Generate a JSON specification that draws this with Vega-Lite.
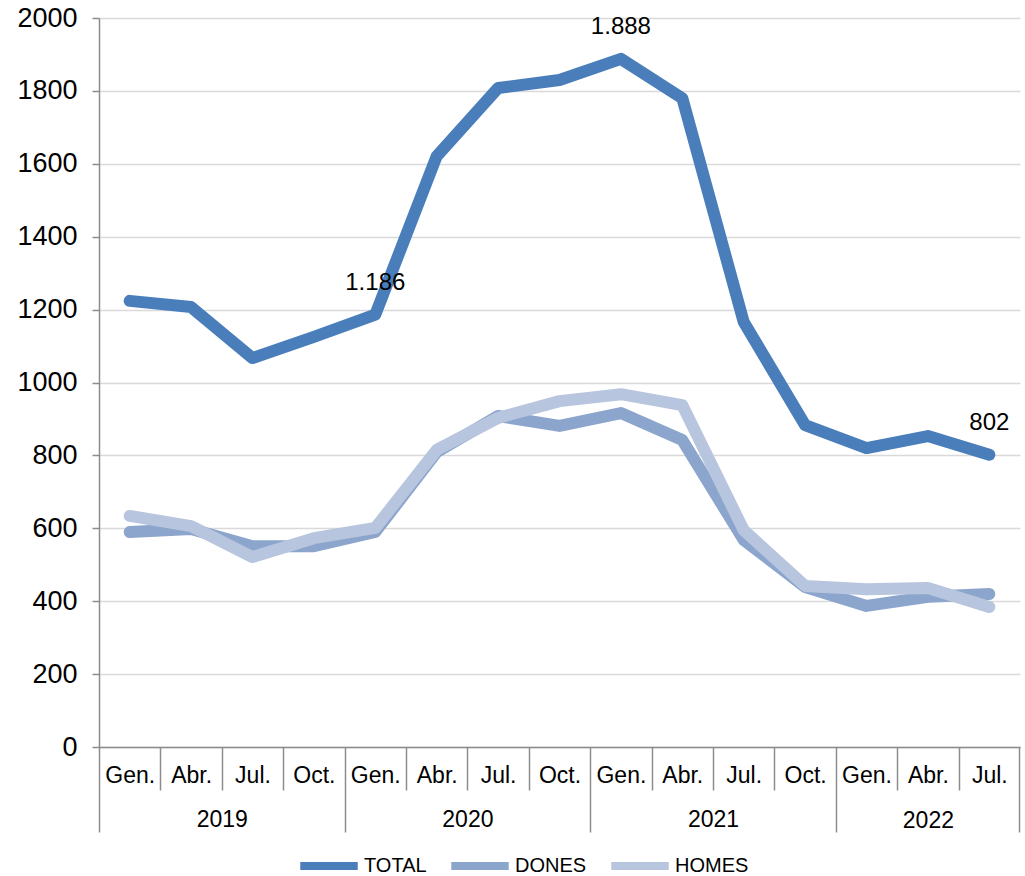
{
  "$schema": "https://vega.github.io/schema/vega-lite/v6.json",
  "autosize": "none",
  "width": 921,
  "height": 729,
  "padding": {"left": 99, "top": 18, "right": 5, "bottom": 129},
  "background": "white",
  "config": {
    "font": "Liberation Sans",
    "view": {"stroke": null},
    "axis": {"labelFont": "Liberation Sans", "labelColor": "#000000"}
  },
  "data": {
    "values": [
      {"i": 0, "serie": "TOTAL", "valor": 1224},
      {"i": 1, "serie": "TOTAL", "valor": 1207},
      {"i": 2, "serie": "TOTAL", "valor": 1067},
      {"i": 3, "serie": "TOTAL", "valor": 1125},
      {"i": 4, "serie": "TOTAL", "valor": 1186, "label": "1.186"},
      {"i": 5, "serie": "TOTAL", "valor": 1621},
      {"i": 6, "serie": "TOTAL", "valor": 1808},
      {"i": 7, "serie": "TOTAL", "valor": 1830},
      {"i": 8, "serie": "TOTAL", "valor": 1888, "label": "1.888"},
      {"i": 9, "serie": "TOTAL", "valor": 1780},
      {"i": 10, "serie": "TOTAL", "valor": 1166},
      {"i": 11, "serie": "TOTAL", "valor": 883},
      {"i": 12, "serie": "TOTAL", "valor": 820},
      {"i": 13, "serie": "TOTAL", "valor": 853},
      {"i": 14, "serie": "TOTAL", "valor": 802, "label": "802"},
      {"i": 0, "serie": "DONES", "valor": 590},
      {"i": 1, "serie": "DONES", "valor": 598},
      {"i": 2, "serie": "DONES", "valor": 551},
      {"i": 3, "serie": "DONES", "valor": 551},
      {"i": 4, "serie": "DONES", "valor": 590},
      {"i": 5, "serie": "DONES", "valor": 809},
      {"i": 6, "serie": "DONES", "valor": 908},
      {"i": 7, "serie": "DONES", "valor": 881},
      {"i": 8, "serie": "DONES", "valor": 916},
      {"i": 9, "serie": "DONES", "valor": 842},
      {"i": 10, "serie": "DONES", "valor": 568},
      {"i": 11, "serie": "DONES", "valor": 439},
      {"i": 12, "serie": "DONES", "valor": 387},
      {"i": 13, "serie": "DONES", "valor": 412},
      {"i": 14, "serie": "DONES", "valor": 420},
      {"i": 0, "serie": "HOMES", "valor": 634},
      {"i": 1, "serie": "HOMES", "valor": 606},
      {"i": 2, "serie": "HOMES", "valor": 521},
      {"i": 3, "serie": "HOMES", "valor": 573},
      {"i": 4, "serie": "HOMES", "valor": 601},
      {"i": 5, "serie": "HOMES", "valor": 815},
      {"i": 6, "serie": "HOMES", "valor": 903},
      {"i": 7, "serie": "HOMES", "valor": 949},
      {"i": 8, "serie": "HOMES", "valor": 968},
      {"i": 9, "serie": "HOMES", "valor": 938},
      {"i": 10, "serie": "HOMES", "valor": 595},
      {"i": 11, "serie": "HOMES", "valor": 442},
      {"i": 12, "serie": "HOMES", "valor": 433},
      {"i": 13, "serie": "HOMES", "valor": 436},
      {"i": 14, "serie": "HOMES", "valor": 384}
    ]
  },
  "resolve": {"axis": {"x": "independent"}},
  "layer": [
    {
      "mark": {"type": "line", "strokeWidth": 12, "strokeCap": "round", "strokeJoin": "round"},
      "encoding": {
        "x": {
          "field": "i", "type": "quantitative",
          "scale": {"domain": [-0.5, 14.5], "nice": false, "zero": false},
          "axis": {
            "orient": "bottom",
            "title": null,
            "grid": false,
            "values": [0, 1, 2, 3, 4, 5, 6, 7, 8, 9, 10, 11, 12, 13, 14],
            "labelExpr": "datum.value == 13 ? ['Abr.', '2022'] : (datum.value % 4 == 0) ? 'Gen.' : (datum.value % 4 == 1) ? 'Abr.' : (datum.value % 4 == 2) ? 'Jul.' : 'Oct.'",
            "labelFontSize": 23,
            "labelLineHeight": 45,
            "labelOverlap": false,
            "labelFlush": false,
            "labelBound": false,
            "labelAngle": 0,
            "labelAlign": "center",
            "labelBaseline": "top",
            "labelPadding": 17,
            "domainColor": "#8c8c8c",
            "domainWidth": 1.5,
            "ticks": true,
            "tickSize": 0,
            "tickOpacity": 0
          }
        },
        "y": {
          "field": "valor", "type": "quantitative",
          "scale": {"domain": [0, 2000], "nice": false},
          "axis": {
            "title": null,
            "values": [0, 200, 400, 600, 800, 1000, 1200, 1400, 1600, 1800, 2000],
            "format": "d",
            "labelFontSize": 27,
            "labelPadding": 15,
            "gridColor": "#d9d9d9",
            "gridWidth": 1.5,
            "domainColor": "#8c8c8c",
            "domainWidth": 1.5,
            "tickColor": "#8c8c8c",
            "tickWidth": 1.5,
            "tickSize": 7
          }
        },
        "color": {
          "field": "serie", "type": "nominal",
          "scale": {"domain": ["TOTAL", "DONES", "HOMES"], "range": ["#4a7ebb", "#8ca5cd", "#b8c5de"]},
          "legend": {
            "title": null,
            "orient": "none",
            "legendX": 197,
            "legendY": 815,
            "direction": "horizontal",
            "symbolType": "stroke",
            "symbolStrokeWidth": 8,
            "symbolSize": 3300,
            "labelFontSize": 20,
            "labelFont": "Liberation Sans",
            "labelColor": "#000000",
            "columnPadding": 8,
            "labelOffset": 2
          }
        },
        "order": {"field": "i", "type": "quantitative"}
      }
    },
    {
      "transform": [{"filter": "datum.label != null"}],
      "mark": {"type": "text", "fontSize": 24, "dy": -32, "color": "#000000", "align": "center"},
      "encoding": {
        "x": {
          "field": "i", "type": "quantitative",
          "axis": {
            "orient": "bottom",
            "offset": 0,
            "title": null,
            "grid": false,
            "domain": false,
            "values": [-0.5, 0.5, 1.5, 2.5, 3.5, 4.5, 5.5, 6.5, 7.5, 8.5, 9.5, 10.5, 11.5, 12.5, 13.5, 14.49],
            "labelExpr": "datum.value == 1.5 ? '2019' : datum.value == 5.5 ? '2020' : datum.value == 9.5 ? '2021' : ''",
            "labelFontSize": 23,
            "labelOverlap": false,
            "labelFlush": false,
            "labelBound": false,
            "labelAngle": 0,
            "labelAlign": "center",
            "labelBaseline": "top",
            "labelPadding": 18,
            "tickColor": "#8c8c8c",
            "tickWidth": 1.5,
            "tickSize": {"condition": {"test": "indexof([-0.5, 3.5, 7.5, 11.5, 14.49], datum.value) >= 0", "value": 85}, "value": 43}
          }
        },
        "y": {"field": "valor", "type": "quantitative"},
        "text": {"field": "label"}
      }
    }
  ]
}
